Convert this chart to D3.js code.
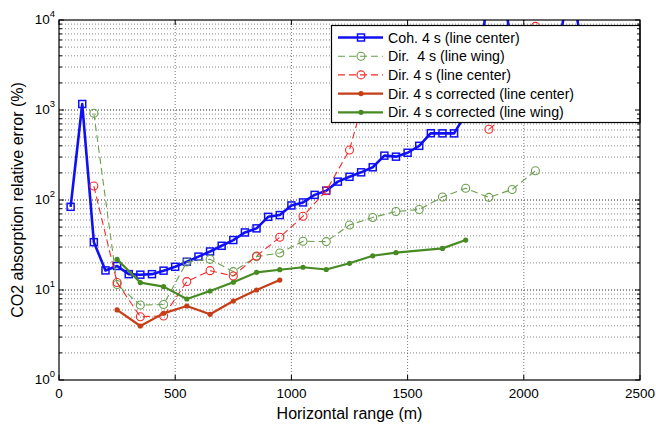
<!DOCTYPE html>
<html>
<head>
<meta charset="utf-8">
<script src="https://cdn.jsdelivr.net/npm/d3@7"></script>
<style>
  body { margin: 0; background: #fff; }
  svg { font-family: "Liberation Sans", Arial, sans-serif; }
</style>
</head>
<body>
<div id="container"></div>
<script>
// horizontal range (m) and relative error (%) per series, null = no point
const cohRange = [50,100,150,200,250,300,350,400,450,500,550,600,650,700,750,800,850,900,950,1000,
  1050,1100,1150,1200,1250,1300,1350,1400,1450,1500,1550,1600,1650,1700,1750,1800,1850,1900,1950,2000,
  2050,2100,2150,2200,2250];
const cohCenter = [84,1166,34,16.5,18.5,15,14.8,15,16.4,18.1,20.6,23.5,26.8,31,35.9,43.6,48.4,65,68,87,
  94,114,127,160,181,203,231,311,303,335,400,552,550,550,900,1500,30000,30000,5000,3000,
  4000,3000,5000,30000,5000];

const dirRange = [150,250,350,450,550,650,750,850,950,1050,1150,1250,1350,1450,1550,1650,1750,1850,1950,2050];
const dirWing = [919,11.5,6.8,6.9,20.5,21.9,16,23.5,25.8,34.8,34.5,52.7,64,74.5,78.5,108,135,107,131,211];
const dirCenter = [143,12.1,5.05,5.14,12.4,16.4,14.3,23.9,38.5,66,127,359,3100,5000,6000,4000,null,610,1000,8500];

const corrCenterRange = [250,350,450,550,650,750,850,950];
const corrCenter = [6.0,3.98,5.5,6.64,5.37,7.55,10,12.9];

const corrWingRange = [250,350,450,550,650,750,850,950,1050,1150,1250,1350,1450,1650,1750];
const corrWing = [21.9,12.1,10.9,7.94,9.75,12.2,15.7,16.8,17.9,16.9,19.8,24,26,29,35.9];

const xTicks = [0,500,1000,1500,2000,2500];
const yDecades = [0,1,2,3,4];

const series = [
  { name: "Coh. 4 s (line center)", xs: cohRange, ys: cohCenter, color: "#1010f5", width: 2.6, dash: null, marker: "square" },
  { name: "Dir.  4 s (line wing)", xs: dirRange, ys: dirWing, color: "#6a9f4c", width: 1.1, dash: "7,4", marker: "circle" },
  { name: "Dir. 4 s (line center)", xs: dirRange, ys: dirCenter, color: "#f42a2a", width: 1.1, dash: "7,4", marker: "circle" },
  { name: "Dir. 4 s corrected (line center)", xs: corrCenterRange, ys: corrCenter, color: "#c63d16", width: 2.2, dash: null, marker: "dot" },
  { name: "Dir. 4 s corrected (line wing)", xs: corrWingRange, ys: corrWing, color: "#468a22", width: 2.2, dash: null, marker: "dot" }
];

const width = 656, height = 425;
const margin = { top: 20, right: 16, bottom: 45, left: 59 };

const svg = d3.select("#container").append("svg")
  .attr("width", width).attr("height", height);

const x = d3.scaleLinear().domain([0, 2500]).range([margin.left, width - margin.right]);
const y = d3.scaleLog().domain([1, 10000]).range([height - margin.bottom, margin.top]);

const x0 = x.range()[0], x1 = x.range()[1], yb = y.range()[0], yt = y.range()[1];

// grid
const grid = svg.append("g");
const minors = [];
yDecades.slice(0, -1).forEach(e => { for (let k = 2; k <= 9; k++) minors.push(k * Math.pow(10, e)); });
grid.selectAll(".minor").data(minors).enter().append("line")
  .attr("x1", x0).attr("x2", x1).attr("y1", d => y(d)).attr("y2", d => y(d))
  .attr("stroke", "#888").attr("stroke-width", 1).attr("stroke-dasharray", "1,2");
grid.selectAll(".major").data(yDecades.slice(1, -1)).enter().append("line")
  .attr("x1", x0).attr("x2", x1).attr("y1", d => y(Math.pow(10, d))).attr("y2", d => y(Math.pow(10, d)))
  .attr("stroke", "#222").attr("stroke-width", 1).attr("stroke-dasharray", "1,2");
grid.selectAll(".vgrid").data(xTicks.slice(1, -1)).enter().append("line")
  .attr("x1", d => x(d)).attr("x2", d => x(d)).attr("y1", yt).attr("y2", yb)
  .attr("stroke", "#777").attr("stroke-width", 1).attr("stroke-dasharray", "1,2");

// clip
svg.append("clipPath").attr("id", "clip").append("rect")
  .attr("x", x0).attr("y", yt).attr("width", x1 - x0).attr("height", yb - yt);
const plot = svg.append("g").attr("clip-path", "url(#clip)");

function drawMarker(g, m, color, px, py) {
  if (m === "square") {
    g.append("rect").attr("x", px - 3.5).attr("y", py - 3.5).attr("width", 7).attr("height", 7)
      .attr("fill", "none").attr("stroke", color).attr("stroke-width", 1.5);
  } else if (m === "circle") {
    g.append("circle").attr("cx", px).attr("cy", py).attr("r", 4)
      .attr("fill", "none").attr("stroke", color).attr("stroke-width", 1.1);
  } else {
    g.append("circle").attr("cx", px).attr("cy", py).attr("r", 2.6).attr("fill", color);
  }
}

series.forEach(s => {
  const pts = s.xs.map((d, i) => [d, s.ys[i]]);
  const line = d3.line().defined(d => d[1] != null).x(d => x(d[0])).y(d => y(d[1]));
  plot.append("path").datum(pts).attr("d", line)
    .attr("fill", "none").attr("stroke", s.color).attr("stroke-width", s.width)
    .attr("stroke-dasharray", s.dash).attr("stroke-linejoin", "round");
  const mg = plot.append("g");
  pts.filter(d => d[1] != null).forEach(d => drawMarker(mg, s.marker, s.color, x(d[0]), y(d[1])));
});

// legend
const lg = svg.append("g");
lg.append("rect").attr("x", 331.5).attr("y", 25.5).attr("width", x1 - 331.5).attr("height", 97)
  .attr("fill", "#fff").attr("stroke", "#000").attr("stroke-width", 1.2);
series.forEach((s, i) => {
  const ly = 37.5 + i * 18.7;
  lg.append("line").attr("x1", 338).attr("x2", 383).attr("y1", ly).attr("y2", ly)
    .attr("stroke", s.color).attr("stroke-width", s.width).attr("stroke-dasharray", s.dash);
  drawMarker(lg, s.marker, s.color, 361, ly);
  lg.append("text").attr("x", 388).attr("y", ly + 5).attr("font-size", 14.2)
    .style("white-space", "pre").text(s.name);
});

// axes frame and ticks (inward)
svg.append("rect").attr("x", x0).attr("y", yt).attr("width", x1 - x0).attr("height", yb - yt)
  .attr("fill", "none").attr("stroke", "#000").attr("stroke-width", 1.2);

const ticks = svg.append("g").attr("stroke", "#000").attr("stroke-width", 1);
xTicks.forEach(d => {
  ticks.append("line").attr("x1", x(d)).attr("x2", x(d)).attr("y1", yb).attr("y2", yb - 5);
  ticks.append("line").attr("x1", x(d)).attr("x2", x(d)).attr("y1", yt).attr("y2", yt + 5);
});
yDecades.forEach(e => {
  const v = y(Math.pow(10, e));
  ticks.append("line").attr("x1", x0).attr("x2", x0 + 5).attr("y1", v).attr("y2", v);
  ticks.append("line").attr("x1", x1).attr("x2", x1 - 5).attr("y1", v).attr("y2", v);
});
minors.forEach(m => {
  ticks.append("line").attr("x1", x0).attr("x2", x0 + 3).attr("y1", y(m)).attr("y2", y(m));
  ticks.append("line").attr("x1", x1).attr("x2", x1 - 3).attr("y1", y(m)).attr("y2", y(m));
});

svg.append("g").selectAll("text").data(xTicks).enter().append("text")
  .attr("x", d => x(d)).attr("y", yb + 18).attr("text-anchor", "middle")
  .attr("font-size", 13.5).text(d => d);

const yl = svg.append("g").selectAll("text").data(yDecades).enter().append("text")
  .attr("x", x0 - 4).attr("y", d => y(Math.pow(10, d)) + 4).attr("text-anchor", "end")
  .attr("font-size", 13.5);
yl.append("tspan").text("10");
yl.append("tspan").attr("dy", -7).attr("font-size", 9.5).text(d => d);

svg.append("text").attr("x", (x0 + x1) / 2).attr("y", 419).attr("text-anchor", "middle")
  .attr("font-size", 16).text("Horizontal range (m)");
svg.append("text").attr("transform", "translate(23," + ((yt + yb) / 2) + ")rotate(-90)")
  .attr("text-anchor", "middle").attr("font-size", 16).text("CO2 absorption relative error (%)");
</script>
</body>
</html>
